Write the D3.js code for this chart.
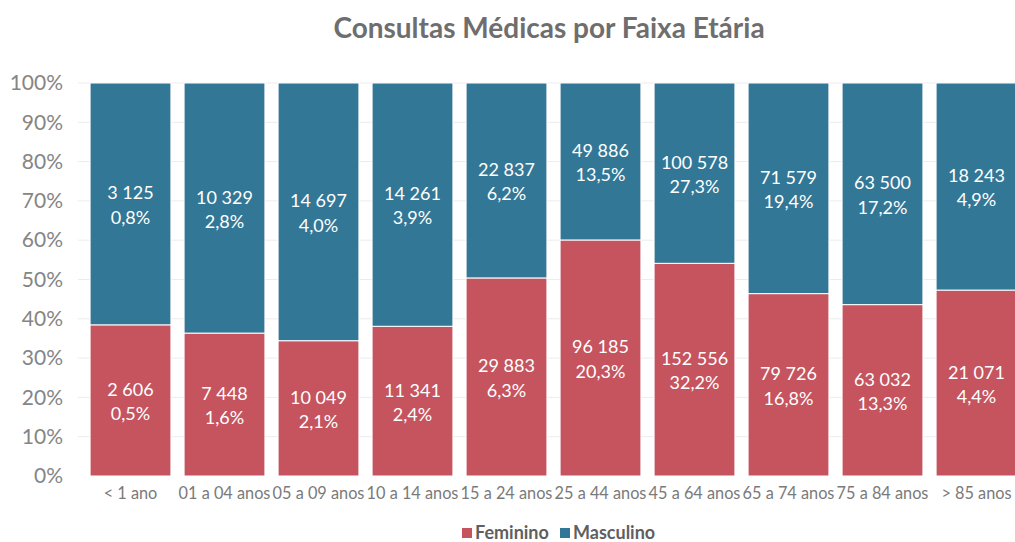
<!DOCTYPE html>
<html><head><meta charset="utf-8">
<script src="https://cdn.jsdelivr.net/npm/d3@7"></script>
<style>body{margin:0;background:#fff;} svg{display:block;font-family:Lato, "Open Sans", sans-serif;}</style>
</head><body>
<svg id="c" width="1015" height="542"></svg>
<script>
const categories = ["< 1 ano","01 a 04 anos","05 a 09 anos","10 a 14 anos","15 a 24 anos","25 a 44 anos","45 a 64 anos","65 a 74 anos","75 a 84 anos","> 85 anos"];
const femCount = ["2 606","7 448","10 049","11 341","29 883","96 185","152 556","79 726","63 032","21 071"];
const femPct = [0.5,1.6,2.1,2.4,6.3,20.3,32.2,16.8,13.3,4.4];
const mascCount = ["3 125","10 329","14 697","14 261","22 837","49 886","100 578","71 579","63 500","18 243"];
const mascPct = [0.8,2.8,4.0,3.9,6.2,13.5,27.3,19.4,17.2,4.9];
const yTicks = [0,0.1,0.2,0.3,0.4,0.5,0.6,0.7,0.8,0.9,1.0];
const seriesNames = ["Feminino","Masculino"];
const colors = {Feminino:"#c5545f", Masculino:"#337797"};

const svg = d3.select("#c");
const x = d3.scaleBand().domain(categories).range([83.5,1023.5]).paddingInner(0.14).paddingOuter(0.07);
const y = d3.scaleLinear().domain([0,1]).range([476,83]);
const fmtPct = v => v.toFixed(1).replace(".", ",") + "%";

// title
svg.append("text").attr("x",549).attr("y",38).attr("text-anchor","middle")
  .attr("font-size",28).attr("font-weight","bold").attr("fill","#6e6e6e")
  .text("Consultas Médicas por Faixa Etária");

// gridlines
svg.append("g").selectAll("line").data(yTicks.slice(1)).join("line")
  .attr("x1",78).attr("x2",1015).attr("y1",d=>y(d)).attr("y2",d=>y(d))
  .attr("stroke","#ececec").attr("stroke-width",1);

// y axis
const yAxis = d3.axisLeft(y).tickValues(yTicks).tickFormat(d3.format(".0%")).tickSize(0).tickPadding(0);
const ya = svg.append("g").attr("transform","translate(63,0)").call(yAxis);
ya.select(".domain").remove();
ya.selectAll("text").attr("font-size",21).attr("fill","#858585").attr("font-family","Lato, sans-serif");

// data
const rows = categories.map((c,i)=>({cat:c, Feminino:femPct[i]/(femPct[i]+mascPct[i]), Masculino:mascPct[i]/(femPct[i]+mascPct[i]), i}));
const stack = d3.stack().keys(seriesNames)(rows);

const g = svg.append("g");
stack.forEach(s=>{
  g.append("g").selectAll("rect").data(s).join("rect")
    .attr("x",d=>x(d.data.cat)).attr("width",x.bandwidth())
    .attr("y",d=>y(d[1])).attr("height",d=>y(d[0])-y(d[1]))
    .attr("fill",colors[s.key]).attr("stroke","#fff").attr("stroke-width",1);
  const lab = g.append("g").selectAll("text").data(s).join("text")
    .attr("text-anchor","middle").attr("fill","#fff").attr("font-size",18)
    .attr("x",d=>x(d.data.cat)+x.bandwidth()/2)
    .attr("y",d=>(y(d[0])+y(d[1]))/2);
  lab.append("tspan").attr("x",d=>x(d.data.cat)+x.bandwidth()/2).attr("dy","-0.25em")
    .text(d=> s.key==="Feminino" ? femCount[d.data.i] : mascCount[d.data.i]);
  lab.append("tspan").attr("x",d=>x(d.data.cat)+x.bandwidth()/2).attr("dy","1.35em")
    .text(d=> fmtPct(s.key==="Feminino" ? femPct[d.data.i] : mascPct[d.data.i]));
});

// x axis
const xAxis = d3.axisBottom(x).tickSize(0).tickPadding(0);
const xa = svg.append("g").attr("transform","translate(0,487)").call(xAxis);
xa.select(".domain").remove();
xa.selectAll("text").attr("font-size",16.3).attr("fill","#7a7a7a").attr("dy","0.71em").attr("font-family","Lato, sans-serif");

// legend
const leg = svg.append("g").attr("transform","translate(0,534)");
const legItems = [{k:"Feminino",x:462},{k:"Masculino",x:560}];
legItems.forEach(it=>{
  leg.append("rect").attr("x",it.x).attr("y",-6).attr("width",10).attr("height",10).attr("fill",colors[it.k]);
  leg.append("text").attr("x",it.x+13).attr("y",5).attr("font-size",18).attr("font-weight","bold").attr("fill","#5f5f5f").text(it.k);
});
</script>
</body></html>
